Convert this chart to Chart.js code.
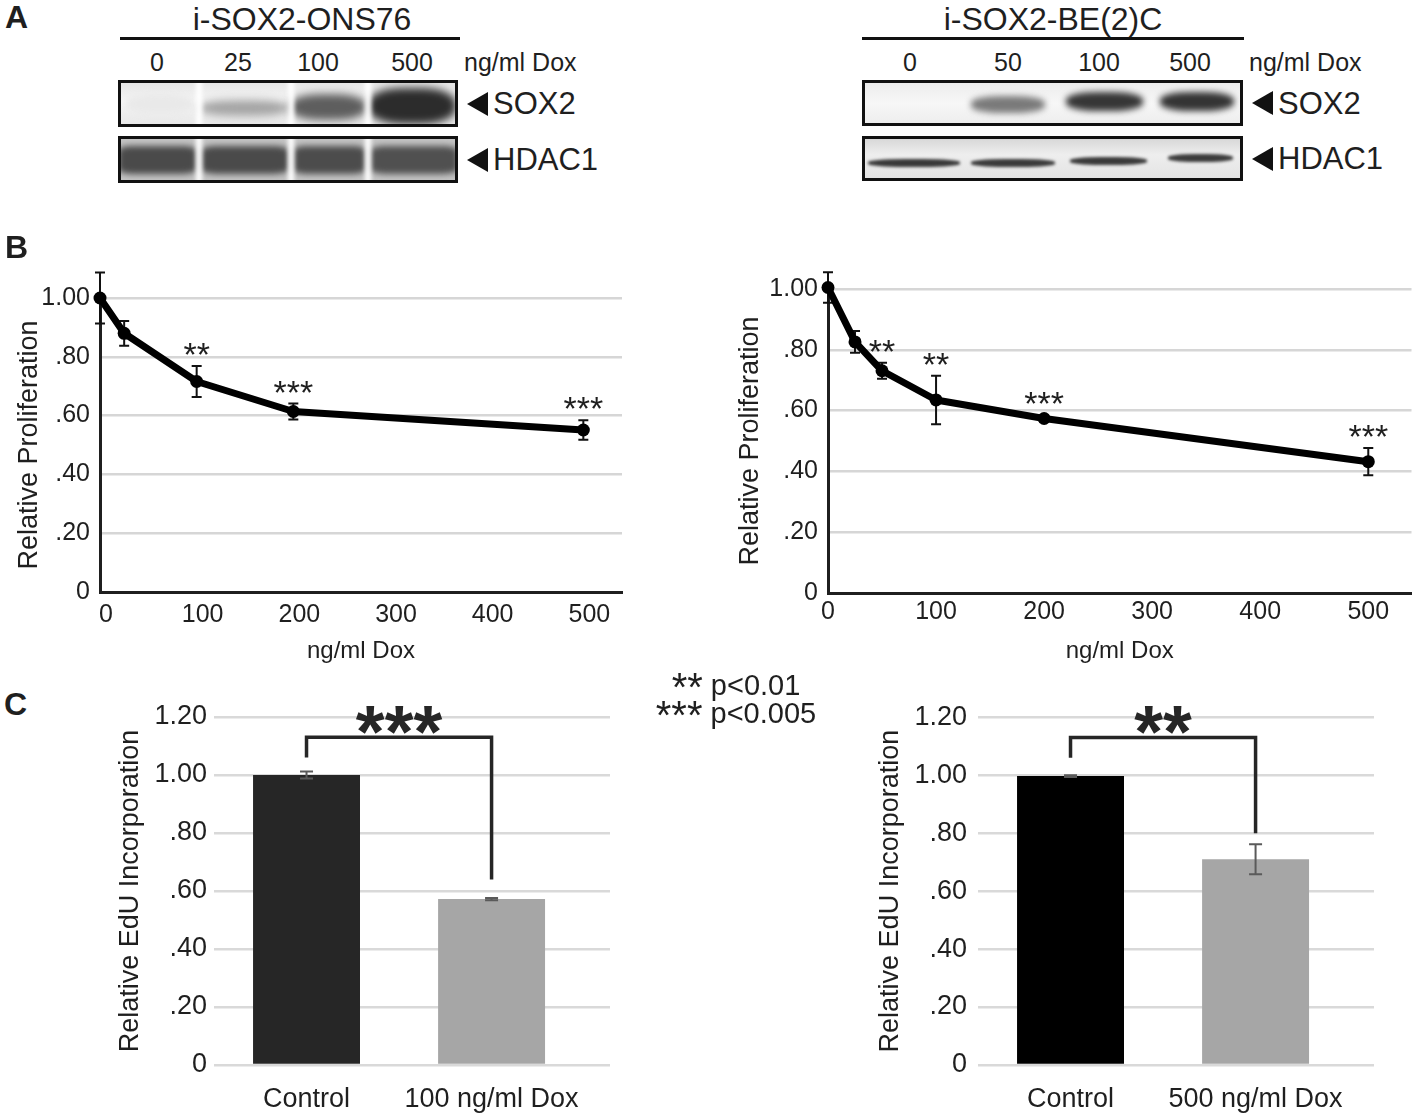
<!DOCTYPE html>
<html>
<head>
<meta charset="utf-8">
<script src="https://cdn.jsdelivr.net/npm/chart.js@4.4.1/dist/chart.umd.min.js"></script>
<style>
  body { margin: 0; background: #fff; }
  #page { position: relative; width: 1418px; height: 1116px; overflow: hidden;
          font-family: "Liberation Sans", Arial, sans-serif; color: #1f1f1f; }
  .t { position: absolute; line-height: 1; white-space: nowrap; }
  .box { position: absolute; box-sizing: border-box; border: 3px solid #111; overflow: hidden; }
  .band { position: absolute; border-radius: 40%; }
  .tri { position: absolute; width: 0; height: 0; border-top: 12px solid transparent;
         border-bottom: 12px solid transparent; border-right: 21px solid #111; }
  .rule { position: absolute; height: 3px; background: #111; }
  canvas { position: absolute; }
</style>
</head>
<body>
<div id="page">
  <canvas id="bLeft" width="630" height="420" style="left:0px;top:250px"></canvas>
  <canvas id="bRight" width="698" height="420" style="left:720px;top:250px"></canvas>
  <canvas id="cLeft" width="520" height="426" style="left:100px;top:690px"></canvas>
  <canvas id="cRight" width="558" height="426" style="left:860px;top:690px"></canvas>
</div>
<script>
// ---- data ----
const onsDose = [0, 25, 100, 200, 500];
const onsProlif = [1.00, 0.88, 0.716, 0.614, 0.551];
const onsErr = [0.087, 0.042, 0.053, 0.027, 0.033];
const onsSig = ['', '', '**', '***', '***'];

const be2cDose = [0, 25, 50, 100, 200, 500];
const be2cProlif = [1.005, 0.826, 0.731, 0.635, 0.574, 0.432];
const be2cErr = [0.05, 0.036, 0.026, 0.08, 0.01, 0.045];
const be2cSig = ['', '', '**', '**', '***', '***'];

const eduOnsLabels = ['Control', '100 ng/ml Dox'];
const eduOns = [1.00, 0.572];
const eduOnsErr = [0.012, 0.004];

const eduBe2cLabels = ['Control', '500 ng/ml Dox'];
const eduBe2c = [0.997, 0.71];
const eduBe2cErr = [0.003, 0.052];

const fracTicks = ['0', '.20', '.40', '.60', '.80', '1.00', '1.20'];

const FONT = '"Liberation Sans", Arial, sans-serif';
const INK = '#1f1f1f';
Chart.defaults.font.family = FONT;
Chart.defaults.color = INK;

const page = document.getElementById('page');

// text placed by its baseline (line-height 1, Liberation Sans metrics)
function addText(txt, x, base, size, opts) {
  opts = opts || {};
  const d = document.createElement('div');
  d.className = 't';
  d.innerHTML = txt;
  d.style.fontSize = size + 'px';
  d.style.top = (base - 0.8465 * size) + 'px';
  d.style.left = x + 'px';
  if (opts.bold) d.style.fontWeight = 'bold';
  if (opts.center) d.style.transform = 'translateX(-50%)';
  page.appendChild(d);
  return d;
}

// ---- panel letters ----
addText('A', 5, 28, 32, {bold: true});
addText('B', 5, 258, 32, {bold: true});
addText('C', 4, 715, 32, {bold: true});

// ---- panel A: western blots ----
function blot(title, titleX, ruleX, ruleW, lanes, laneXs, dxLabel, rows) {
  addText(title, titleX, 30, 32, {center: true});
  const r = document.createElement('div');
  r.className = 'rule';
  r.style.left = ruleX + 'px'; r.style.top = '37px'; r.style.width = ruleW + 'px';
  page.appendChild(r);
  lanes.forEach((l, i) => addText(l, laneXs[i], 71, 25, {center: true}));
  addText('ng/ml Dox', dxLabel, 71, 25);
  rows.forEach(row => {
    const [bx, by, bw, bh] = row.box;
    const b = document.createElement('div');
    b.className = 'box';
    Object.assign(b.style, {left: bx + 'px', top: by + 'px', width: bw + 'px', height: bh + 'px', background: row.bg});
    row.bands.forEach(([x0, x1, yc, h, col, blur]) => {
      const s = document.createElement('div');
      s.className = 'band';
      Object.assign(s.style, {left: (x0 - bx - 3) + 'px', width: (x1 - x0) + 'px',
        top: (yc - h / 2 - by - 3) + 'px', height: h + 'px', background: col,
        filter: 'blur(' + blur + 'px)', borderRadius: row.round || '40%'});
      b.appendChild(s);
    });
    (row.gaps || []).forEach(gx => {
      const g = document.createElement('div');
      g.className = 'band';
      Object.assign(g.style, {left: (gx - bx - 6) + 'px', width: '6px', top: '-4px', height: (bh + 8) + 'px',
        background: '#fff', filter: 'blur(2px)', borderRadius: '0'});
      b.appendChild(g);
    });
    page.appendChild(b);
    const tri = document.createElement('div');
    tri.className = 'tri';
    tri.style.left = (bx + bw + 9) + 'px';
    tri.style.top = (by + bh / 2 - 12) + 'px';
    page.appendChild(tri);
    addText(row.label, bx + bw + 35, by + bh / 2 + 11, 31);
  });
}

blot('i-SOX2-ONS76', 302, 120, 340, ['0', '25', '100', '500'], [157, 238, 318, 412], 464, [
  {box: [118, 80, 340, 47], label: 'SOX2', bg: 'linear-gradient(#e6e6e6, #f6f6f6 45%, #e8e8e8)',
   gaps: [199, 291, 368],
   bands: [[126, 194, 104, 20, '#e9e9e9', 3], [200, 288, 108, 16, '#a4a4a4', 4],
           [290, 366, 107, 26, '#5e5e5e', 4], [368, 456, 106, 36, '#2c2c2c', 4]]},
  {box: [118, 136, 340, 47], label: 'HDAC1', bg: '#c4c4c4', gaps: [199, 291, 368], round: '18%',
   bands: [[118, 197, 160, 28, '#4a4a4a', 3], [201, 289, 160, 28, '#4a4a4a', 3],
           [293, 366, 160, 28, '#4c4c4c', 3], [370, 458, 160, 28, '#505050', 3]]}
]);

blot('i-SOX2-BE(2)C', 1053, 862, 382, ['0', '50', '100', '500'], [910, 1008, 1099, 1190], 1249, [
  {box: [862, 80, 381, 46], label: 'SOX2', bg: 'linear-gradient(#ececec, #f7f7f7 50%, #eeeeee)',
   bands: [[971, 1045, 104, 17, '#7a7a7a', 3], [1066, 1143, 101, 19, '#363636', 3],
           [1160, 1234, 101, 19, '#343434', 3]]},
  {box: [862, 136, 381, 45], label: 'HDAC1', bg: 'linear-gradient(#d8d8d8, #eeeeee 40%, #e4e4e4)',
   bands: [[868, 960, 163, 8, '#383838', 1.5], [971, 1055, 163, 8, '#3a3a3a', 1.5],
           [1070, 1147, 161, 8, '#3a3a3a', 1.5], [1168, 1233, 158, 8, '#3c3c3c', 1.5]]}
]);

// ---- p-value key ----
addText('<span style="font-size:40px;vertical-align:-6px">**</span> p&lt;0.01', 736, 692, 29, {center: true});
addText('<span style="font-size:40px;vertical-align:-6px">***</span> p&lt;0.005', 736, 720, 29, {center: true});

// ---- plugins ----
function glyphBase(ctx, txt, centerY) {
  const m = ctx.measureText(txt);
  return centerY + (m.actualBoundingBoxAscent - m.actualBoundingBoxDescent) / 2;
}

function valueOf(p) {
  return typeof p === 'object' ? p.y : p;
}

const errorBars = {
  id: 'errorBars',
  beforeDatasetsDraw(chart, args, o) { if (o.under) drawErr(chart, o); },
  afterDatasetsDraw(chart, args, o) {
    if (!o.under) drawErr(chart, o);
    if (!o.sig) return;
    const {ctx, scales: {y}} = chart;
    const ds = chart.data.datasets[0].data;
    ctx.save();
    ctx.fillStyle = INK;
    ctx.font = o.sigFont;
    ctx.textAlign = 'center';
    chart.getDatasetMeta(0).data.forEach((el, i) => {
      if (!o.sig[i]) return;
      const top = y.getPixelForValue(valueOf(ds[i]) + o.err[i]);
      ctx.fillText(o.sig[i], el.x, glyphBase(ctx, o.sig[i], top - o.sigGap));
    });
    ctx.restore();
  }
};

function drawErr(chart, o) {
  const {ctx, scales: {y}} = chart;
  const ds = chart.data.datasets[0].data;
  ctx.save();
  ctx.strokeStyle = o.color;
  ctx.lineWidth = o.width;
  chart.getDatasetMeta(0).data.forEach((el, i) => {
    const v = valueOf(ds[i]);
    const t = y.getPixelForValue(v + o.err[i]);
    const b = y.getPixelForValue(v - o.err[i]);
    ctx.beginPath();
    ctx.moveTo(el.x, t); ctx.lineTo(el.x, b);
    ctx.moveTo(el.x - o.cap, t); ctx.lineTo(el.x + o.cap, t);
    ctx.moveTo(el.x - o.cap, b); ctx.lineTo(el.x + o.cap, b);
    ctx.stroke();
  });
  ctx.restore();
}

const bracket = {
  id: 'bracket',
  afterDraw(chart, args, o) {
    if (!o.mark) return;
    const {ctx, scales: {x, y}} = chart;
    const x0 = x.getPixelForValue(0), x1 = x.getPixelForValue(1);
    const yb = y.getPixelForValue(o.level);
    ctx.save();
    ctx.strokeStyle = '#262626';
    ctx.lineWidth = 3.5;
    ctx.lineCap = 'butt';
    ctx.lineJoin = 'miter';
    ctx.beginPath();
    ctx.moveTo(x0, y.getPixelForValue(o.leftEnd));
    ctx.lineTo(x0, yb);
    ctx.lineTo(x1, yb);
    ctx.lineTo(x1, y.getPixelForValue(o.rightEnd));
    ctx.stroke();
    ctx.fillStyle = '#262626';
    ctx.font = 'bold 74px ' + FONT;
    ctx.textAlign = 'center';
    ctx.fillText(o.mark, (x0 + x1) / 2, glyphBase(ctx, o.mark, y.getPixelForValue(o.markAt)));
    ctx.restore();
  }
};

function fracLabel(v) {
  return fracTicks[Math.round(v / 0.2)];
}

// ---- panel B: proliferation curves ----
function prolifChart(id, dose, vals, err, sig, lay) {
  return new Chart(document.getElementById(id), {
    type: 'line',
    data: {
      datasets: [{
        data: dose.map((d, i) => ({x: d, y: vals[i]})),
        borderColor: '#000', backgroundColor: '#000',
        borderWidth: 7, borderJoinStyle: 'round', borderCapStyle: 'round',
        pointRadius: 6.5, pointBackgroundColor: '#000', pointBorderWidth: 0,
        tension: 0, clip: false
      }]
    },
    options: {
      responsive: false, animation: false,
      layout: {padding: {top: lay.top, right: lay.right, left: 0, bottom: 0}},
      plugins: {
        legend: {display: false}, tooltip: {enabled: false},
        errorBars: {err: err, color: '#111', width: 2, cap: 5, under: true,
                    sig: sig, sigFont: '34px ' + FONT, sigGap: 17},
        bracket: {}
      },
      scales: {
        x: {
          type: 'linear', min: 0, max: 540,
          afterFit: s => { s.height = lay.xh; },
          grid: {display: false, drawTicks: false},
          border: {color: '#1f1f1f', width: 3},
          ticks: {stepSize: 100, includeBounds: false, font: {size: 25}, padding: lay.xpad,
                  labelOffset: lay.xoff, maxRotation: 0},
          title: {display: true, text: 'ng/ml Dox', font: {size: 24}, padding: {bottom: 4, top: 0}}
        },
        y: {
          min: 0, max: 1.0,
          afterFit: s => { s.width = lay.yw; },
          grid: {drawTicks: false, lineWidth: 2.5,
                 color: c => c.tick.value === 0 ? 'rgba(0,0,0,0)' : '#d6d6d6'},
          border: {color: '#1f1f1f', width: 3},
          ticks: {stepSize: 0.2, font: {size: 25}, padding: 10, callback: fracLabel},
          title: {display: true, text: 'Relative Proliferation', font: {size: 27}, padding: {top: lay.tpad}}
        }
      }
    },
    plugins: [errorBars, bracket]
  });
}

prolifChart('bLeft', onsDose, onsProlif, onsErr, onsSig,
  {top: 48, right: 8, xh: 78, yw: 100, xpad: 8, xoff: 6, tpad: 13});
prolifChart('bRight', be2cDose, be2cProlif, be2cErr, be2cSig,
  {top: 39, right: 3, xh: 77, yw: 108, xpad: 4, xoff: 0, tpad: 14});

// ---- panel C: EdU incorporation ----
// bars sit on a linear index axis so the plot area runs past the second bar, as in the figure
function eduChart(id, labels, vals, err, colors, lay, br) {
  return new Chart(document.getElementById(id), {
    type: 'bar',
    data: {
      datasets: [{data: vals.map((v, i) => ({x: i, y: v})), backgroundColor: colors, borderWidth: 0,
                  categoryPercentage: 1.0, barPercentage: 0.578}]
    },
    options: {
      responsive: false, animation: false,
      layout: {padding: {top: 27, right: lay.right, left: 0, bottom: 0}},
      plugins: {
        legend: {display: false}, tooltip: {enabled: false},
        errorBars: {err: err, color: '#5a5a5a', width: 2, cap: 6.5, under: false},
        bracket: br
      },
      scales: {
        x: {
          type: 'linear', min: -0.5, max: 1.64, offset: false, bounds: 'data',
          afterBuildTicks: s => { s.ticks = labels.map((l, i) => ({value: i})); },
          afterFit: s => { s.height = 51; },
          grid: {display: false, drawTicks: false, offset: false},
          border: {display: false},
          ticks: {font: {size: 27}, padding: 18, maxRotation: 0, autoSkip: false,
                  callback: v => labels[v]}
        },
        y: {
          min: 0, max: 1.2,
          afterFit: s => { s.width = lay.yw; },
          grid: {drawTicks: false, lineWidth: 2.5, color: '#d9d9d9'},
          border: {display: false},
          ticks: {stepSize: 0.2, font: {size: 27}, padding: lay.ypad, callback: fracLabel},
          title: {display: true, text: 'Relative EdU Incorporation', font: {size: 27}, padding: {top: 14}}
        }
      }
    },
    plugins: [errorBars, bracket]
  });
}

eduChart('cLeft', eduOnsLabels, eduOns, eduOnsErr, ['#262626', '#a6a6a6'],
  {right: 10, yw: 114, ypad: 7},
  {mark: '***', level: 1.13, leftEnd: 1.06, rightEnd: 0.64, markAt: 1.19});
eduChart('cRight', eduBe2cLabels, eduBe2c, eduBe2cErr, ['#000000', '#a6a6a6'],
  {right: 44, yw: 118, ypad: 11},
  {mark: '**', level: 1.13, leftEnd: 1.06, rightEnd: 0.80, markAt: 1.19});
</script>
</body>
</html>
